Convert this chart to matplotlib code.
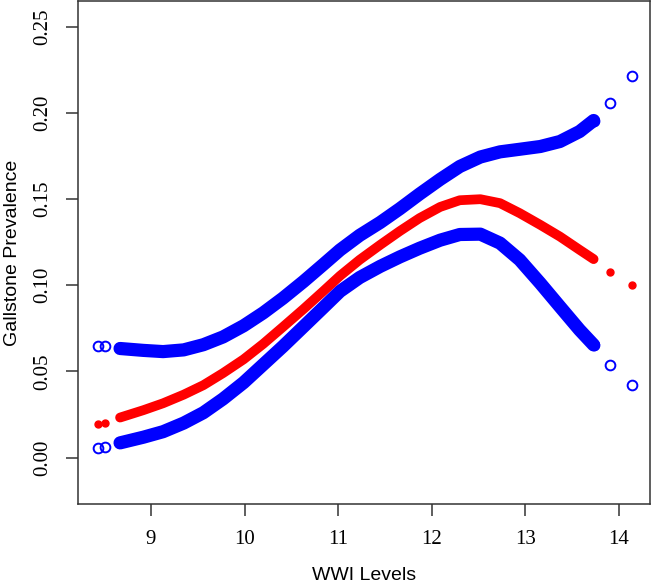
import matplotlib.pyplot as plt

# fitted curve and its band (x = WWI level)
wwi = [8.67, 8.92, 9.13, 9.35, 9.56, 9.77, 9.99, 10.20, 10.41, 10.63, 10.84, 11.02,
       11.23, 11.45, 11.66, 11.87, 12.09, 12.30, 12.52, 12.73, 12.94, 13.16, 13.37,
       13.58, 13.73]
fit = [0.0232, 0.0275, 0.0315, 0.0365, 0.042, 0.049, 0.057, 0.066, 0.0758, 0.0862,
       0.0965, 0.1055, 0.1148, 0.1235, 0.1315, 0.1390, 0.1455, 0.1494, 0.1500, 0.1477,
       0.1419, 0.1351, 0.1283, 0.1206, 0.1152]
upper = [0.0633, 0.0622, 0.0615, 0.0625, 0.0655, 0.070, 0.0765, 0.084, 0.0925, 0.1022,
         0.1120, 0.1205, 0.1290, 0.1365, 0.1445, 0.1530, 0.1615, 0.1690, 0.1745, 0.1775,
         0.1790, 0.1806, 0.1835, 0.1893, 0.1957]
lower = [0.0085, 0.0118, 0.015, 0.020, 0.026, 0.034, 0.0435, 0.054, 0.0645, 0.0760,
         0.0870, 0.0965, 0.1045, 0.1110, 0.1165, 0.1215, 0.1262, 0.1295, 0.1297, 0.1245,
         0.1148, 0.1012, 0.0876, 0.0741, 0.0654]

# isolated observations at both ends
wwi_out = [8.43, 8.51, 13.91, 14.14]
fit_out = [0.0195, 0.0200, 0.1078, 0.1002]
upper_out = [0.0648, 0.0645, 0.206, 0.2216]
lower_out = [0.0058, 0.0062, 0.0537, 0.042]

x_ticks = [9, 10, 11, 12, 13, 14]
y_ticks = [0.00, 0.05, 0.10, 0.15, 0.20, 0.25]

fig = plt.figure(figsize=(6.55, 5.87), dpi=100)
ax = fig.add_axes([0.119, 0.1414, 0.873, 0.8566])

blue = '#0000ff'
red = '#ff0000'

for band in (upper, lower):
    ax.plot(wwi, band, color=blue, lw=9.5, solid_capstyle='round',
            solid_joinstyle='round', zorder=2)
    ax.plot(wwi[-1:], band[-1:], 'o', mfc='none', mec=blue, ms=7, mew=1.4, zorder=3)
ax.plot(wwi, fit, color=red, lw=7, solid_capstyle='round', solid_joinstyle='round', zorder=2)

ax.plot(wwi_out, upper_out, 'o', mfc='none', mec=blue, ms=7, mew=1.4, ls='none')
ax.plot(wwi_out, lower_out, 'o', mfc='none', mec=blue, ms=7, mew=1.4, ls='none')
ax.plot(wwi_out, fit_out, 'o', color=red, ms=5, ls='none')

ax.set_xlim(8.22, 14.33)
ax.set_ylim(-0.027, 0.265)
ax.set_xticks(x_ticks)
ax.set_xticklabels([str(v) for v in x_ticks])
ax.set_yticks(y_ticks)
ax.set_yticklabels(['%.2f' % v for v in y_ticks], rotation=90, va='center')

for lab in ax.get_xticklabels() + ax.get_yticklabels():
    lab.set_family('Liberation Serif')
    lab.set_fontsize(15)
ax.tick_params(direction='out', length=8.5, width=1.1, color='#333333', pad=10)

for sp in ax.spines.values():
    sp.set_linewidth(1.1)
    sp.set_color('#333333')

ax.set_xlabel('WWI Levels', family='Liberation Sans', fontsize=14, labelpad=13)
ax.set_ylabel('Gallstone Prevalence', family='Liberation Sans', fontsize=14, labelpad=9)

fig.savefig('out.png', dpi=100)
